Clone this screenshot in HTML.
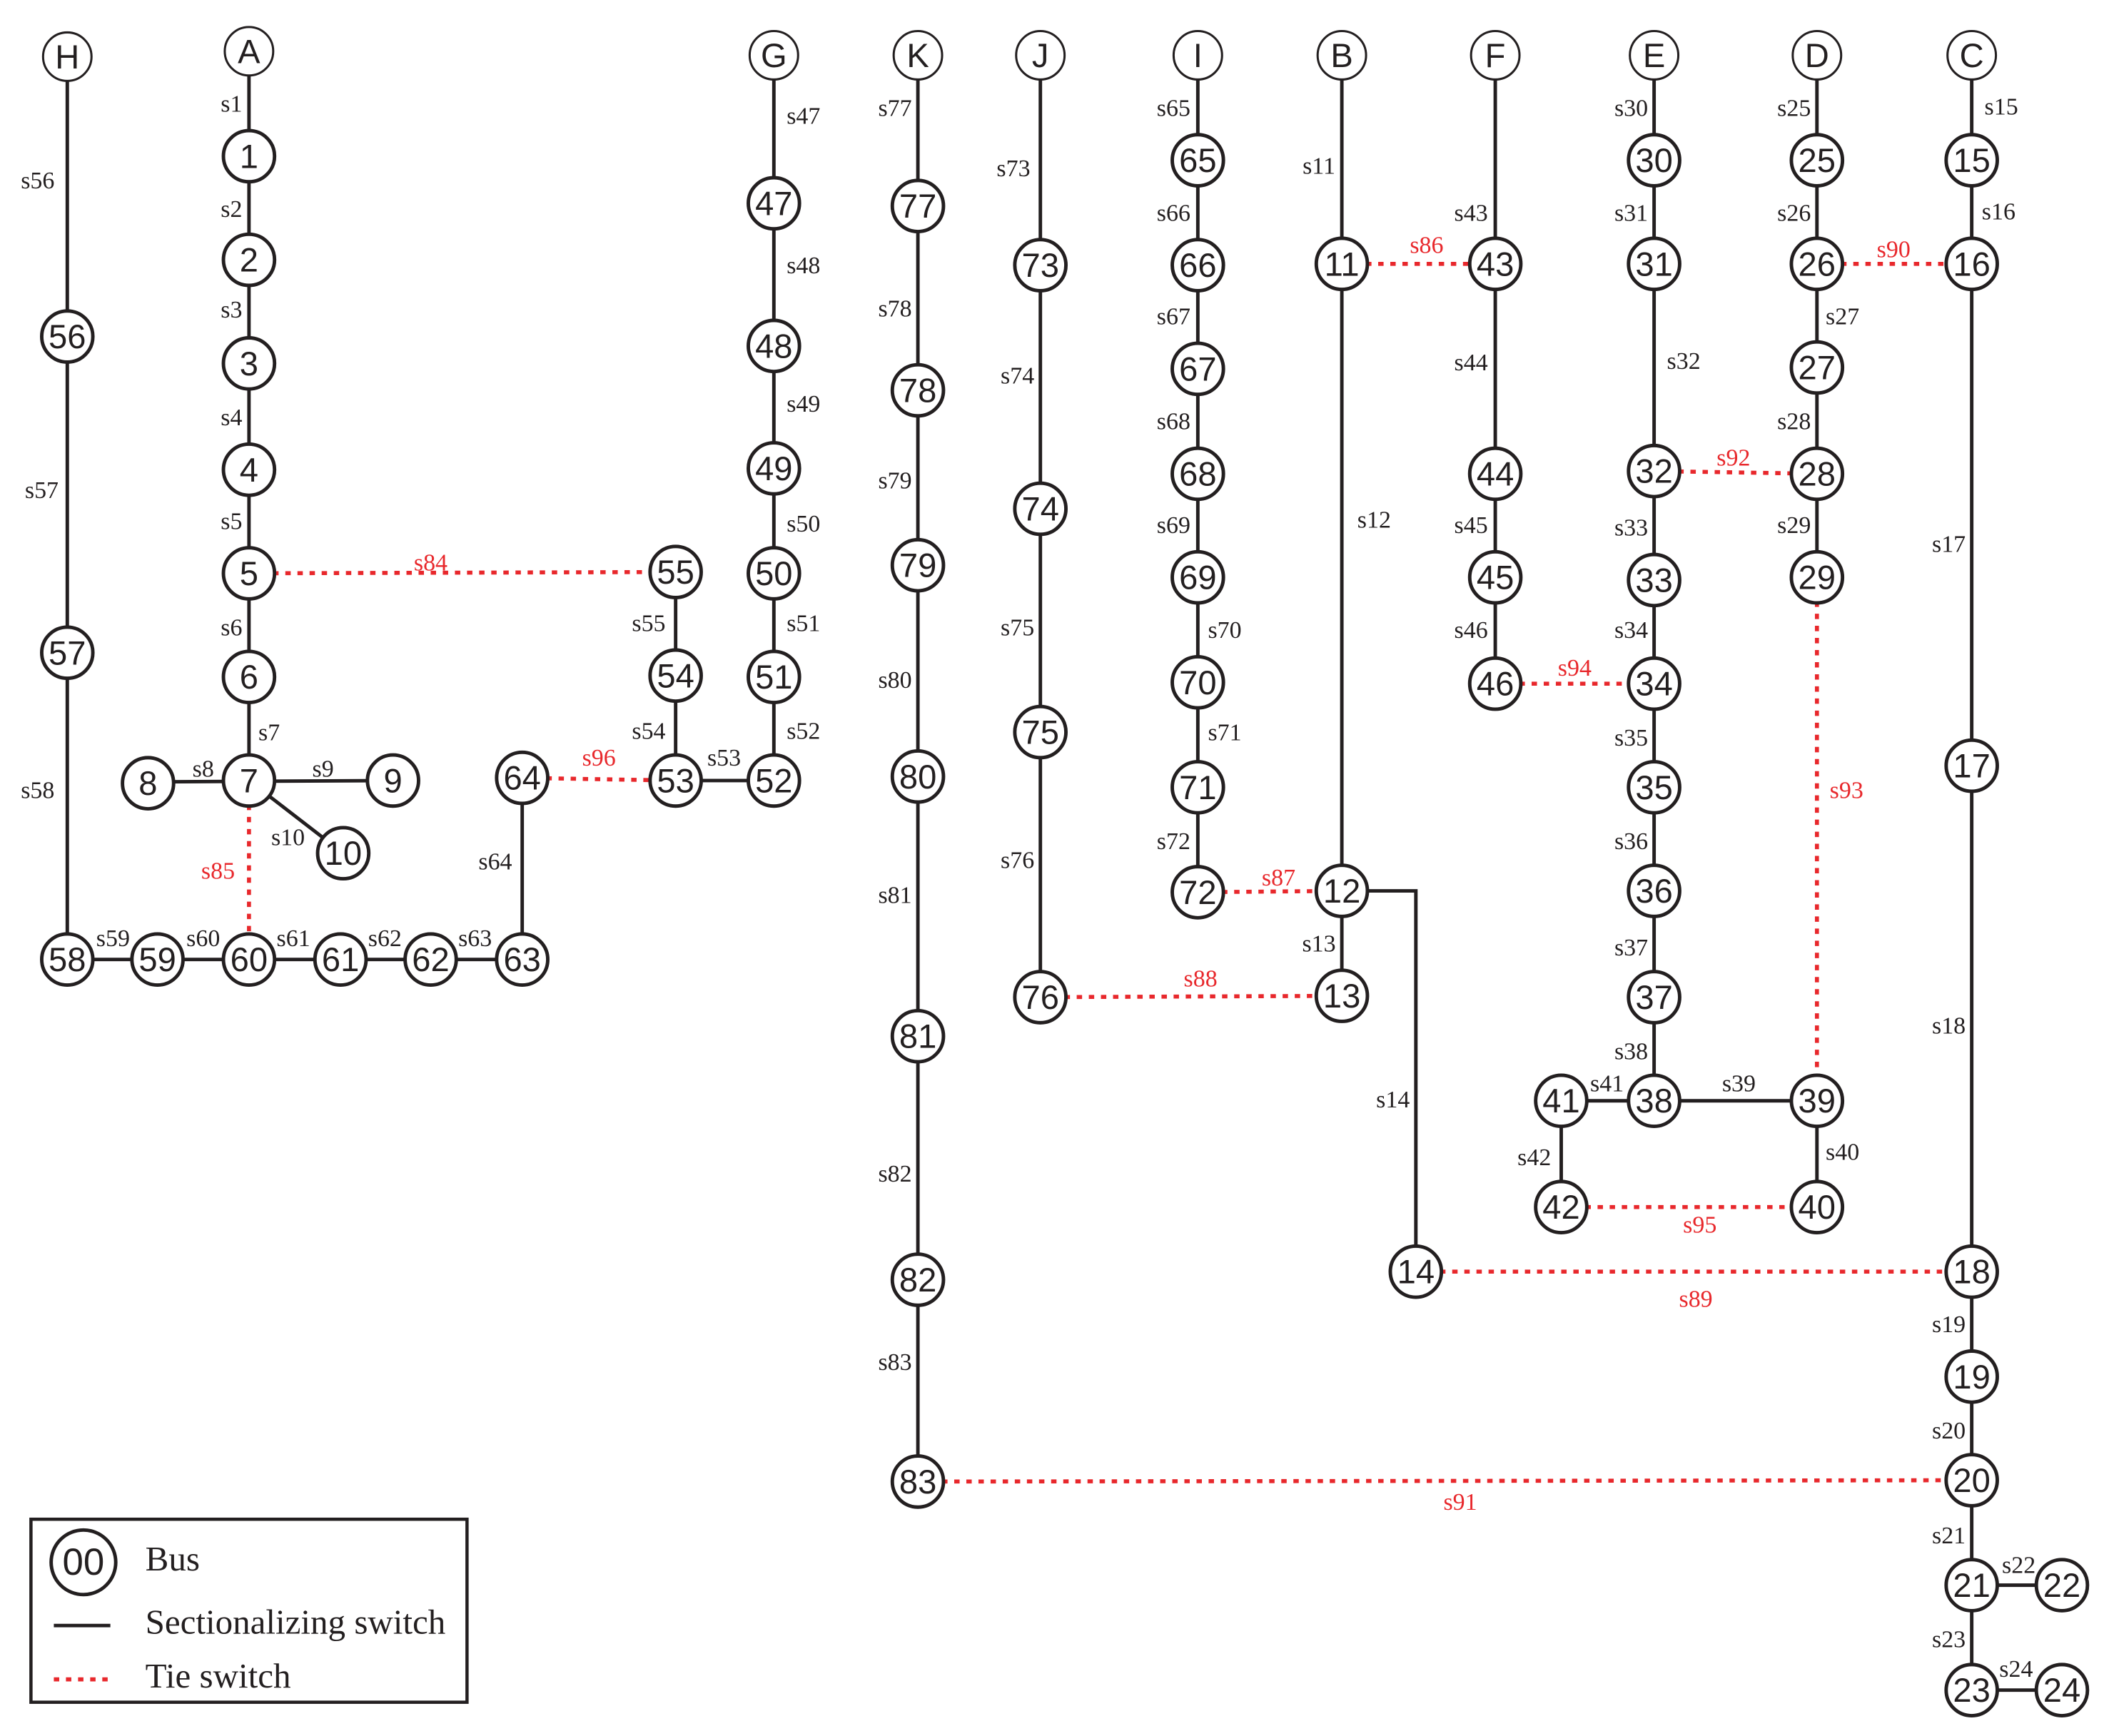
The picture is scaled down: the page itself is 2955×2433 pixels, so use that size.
<!DOCTYPE html>
<html><head><meta charset="utf-8"><style>
html,body{margin:0;padding:0;background:#fff;}
svg{display:block;}
.n circle{fill:#fff;stroke:#231f20;stroke-width:2.6;}
.n text{font-family:"Liberation Sans",sans-serif;font-size:25px;text-anchor:middle;dominant-baseline:central;fill:#231f20;}
.l circle{fill:#fff;stroke:#231f20;stroke-width:1.6;}
.s{font-family:"Liberation Serif",serif;font-size:18px;text-anchor:middle;fill:#231f20;}
.r{font-family:"Liberation Serif",serif;font-size:18px;text-anchor:middle;fill:#e8282c;}
.e{stroke:#231f20;stroke-width:2.6;fill:none;}
.t{stroke:#e8282c;stroke-width:3;stroke-dasharray:4 5;fill:none;}
.lg{font-family:"Liberation Serif",serif;font-size:26px;fill:#231f20;}
</style></head><body>
<svg width="2955" height="2433" viewBox="0 0 1567 1290" xmlns="http://www.w3.org/2000/svg">
<g class="e">
<line x1="50" y1="42" x2="50" y2="713"/>
<line x1="50" y1="713" x2="388" y2="713"/>
<line x1="388" y1="713" x2="388" y2="578"/>
<line x1="185" y1="38" x2="185" y2="580"/>
<line x1="110" y1="581" x2="292" y2="580"/>
<line x1="185" y1="580" x2="255" y2="634"/>
<line x1="502" y1="425" x2="502" y2="580"/>
<line x1="502" y1="580" x2="575" y2="580"/>
<line x1="575" y1="41" x2="575" y2="580"/>
<line x1="682" y1="41" x2="682" y2="1101"/>
<line x1="773" y1="41" x2="773" y2="741"/>
<line x1="890" y1="41" x2="890" y2="663"/>
<line x1="997" y1="41" x2="997" y2="740"/>
<polyline points="997,662 1052,662 1052,945"/>
<line x1="1111" y1="41" x2="1111" y2="508"/>
<line x1="1229" y1="41" x2="1229" y2="818"/>
<line x1="1160" y1="818" x2="1350" y2="818"/>
<line x1="1160" y1="818" x2="1160" y2="897"/>
<line x1="1350" y1="818" x2="1350" y2="897"/>
<line x1="1350" y1="41" x2="1350" y2="429"/>
<line x1="1465" y1="41" x2="1465" y2="1256"/>
<line x1="1465" y1="1178" x2="1532" y2="1178"/>
<line x1="1465" y1="1256" x2="1532" y2="1256"/>
</g>
<g class="t">
<line x1="185" y1="426" x2="502" y2="425"/>
<line x1="185" y1="580" x2="185" y2="713"/>
<line x1="997" y1="196" x2="1111" y2="196"/>
<line x1="890" y1="663" x2="997" y2="662"/>
<line x1="773" y1="741" x2="997" y2="740"/>
<line x1="1052" y1="945" x2="1465" y2="945"/>
<line x1="1350" y1="196" x2="1465" y2="196"/>
<line x1="682" y1="1101" x2="1465" y2="1100"/>
<line x1="1229" y1="350" x2="1350" y2="352"/>
<line x1="1350" y1="429" x2="1350" y2="818"/>
<line x1="1111" y1="508" x2="1229" y2="508"/>
<line x1="1160" y1="897" x2="1350" y2="897"/>
<line x1="388" y1="578" x2="502" y2="580"/>
</g>
<g class="n l">
<circle cx="50" cy="42" r="18"/><text x="50" y="42">H</text>
<circle cx="185" cy="38" r="18"/><text x="185" y="38">A</text>
<circle cx="575" cy="41" r="18"/><text x="575" y="41">G</text>
<circle cx="682" cy="41" r="18"/><text x="682" y="41">K</text>
<circle cx="773" cy="41" r="18"/><text x="773" y="41">J</text>
<circle cx="890" cy="41" r="18"/><text x="890" y="41">I</text>
<circle cx="997" cy="41" r="18"/><text x="997" y="41">B</text>
<circle cx="1111" cy="41" r="18"/><text x="1111" y="41">F</text>
<circle cx="1229" cy="41" r="18"/><text x="1229" y="41">E</text>
<circle cx="1350" cy="41" r="18"/><text x="1350" y="41">D</text>
<circle cx="1465" cy="41" r="18"/><text x="1465" y="41">C</text>
</g>
<g class="n">
<circle cx="50" cy="250" r="19"/><text x="50" y="250">56</text>
<circle cx="50" cy="485" r="19"/><text x="50" y="485">57</text>
<circle cx="50" cy="713" r="19"/><text x="50" y="713">58</text>
<circle cx="185" cy="116" r="19"/><text x="185" y="116">1</text>
<circle cx="185" cy="193" r="19"/><text x="185" y="193">2</text>
<circle cx="185" cy="270" r="19"/><text x="185" y="270">3</text>
<circle cx="185" cy="349" r="19"/><text x="185" y="349">4</text>
<circle cx="185" cy="426" r="19"/><text x="185" y="426">5</text>
<circle cx="185" cy="503" r="19"/><text x="185" y="503">6</text>
<circle cx="185" cy="580" r="19"/><text x="185" y="580">7</text>
<circle cx="110" cy="582" r="19"/><text x="110" y="582">8</text>
<circle cx="292" cy="580" r="19"/><text x="292" y="580">9</text>
<circle cx="255" cy="634" r="19"/><text x="255" y="634">10</text>
<circle cx="117" cy="713" r="19"/><text x="117" y="713">59</text>
<circle cx="185" cy="713" r="19"/><text x="185" y="713">60</text>
<circle cx="253" cy="713" r="19"/><text x="253" y="713">61</text>
<circle cx="320" cy="713" r="19"/><text x="320" y="713">62</text>
<circle cx="388" cy="713" r="19"/><text x="388" y="713">63</text>
<circle cx="388" cy="578" r="19"/><text x="388" y="578">64</text>
<circle cx="502" cy="425" r="19"/><text x="502" y="425">55</text>
<circle cx="502" cy="502" r="19"/><text x="502" y="502">54</text>
<circle cx="502" cy="580" r="19"/><text x="502" y="580">53</text>
<circle cx="575" cy="580" r="19"/><text x="575" y="580">52</text>
<circle cx="575" cy="503" r="19"/><text x="575" y="503">51</text>
<circle cx="575" cy="426" r="19"/><text x="575" y="426">50</text>
<circle cx="575" cy="348" r="19"/><text x="575" y="348">49</text>
<circle cx="575" cy="257" r="19"/><text x="575" y="257">48</text>
<circle cx="575" cy="151" r="19"/><text x="575" y="151">47</text>
<circle cx="682" cy="153" r="19"/><text x="682" y="153">77</text>
<circle cx="682" cy="290" r="19"/><text x="682" y="290">78</text>
<circle cx="682" cy="420" r="19"/><text x="682" y="420">79</text>
<circle cx="682" cy="577" r="19"/><text x="682" y="577">80</text>
<circle cx="682" cy="770" r="19"/><text x="682" y="770">81</text>
<circle cx="682" cy="951" r="19"/><text x="682" y="951">82</text>
<circle cx="682" cy="1101" r="19"/><text x="682" y="1101">83</text>
<circle cx="773" cy="197" r="19"/><text x="773" y="197">73</text>
<circle cx="773" cy="378" r="19"/><text x="773" y="378">74</text>
<circle cx="773" cy="544" r="19"/><text x="773" y="544">75</text>
<circle cx="773" cy="741" r="19"/><text x="773" y="741">76</text>
<circle cx="890" cy="119" r="19"/><text x="890" y="119">65</text>
<circle cx="890" cy="197" r="19"/><text x="890" y="197">66</text>
<circle cx="890" cy="274" r="19"/><text x="890" y="274">67</text>
<circle cx="890" cy="352" r="19"/><text x="890" y="352">68</text>
<circle cx="890" cy="429" r="19"/><text x="890" y="429">69</text>
<circle cx="890" cy="507" r="19"/><text x="890" y="507">70</text>
<circle cx="890" cy="585" r="19"/><text x="890" y="585">71</text>
<circle cx="890" cy="663" r="19"/><text x="890" y="663">72</text>
<circle cx="997" cy="196" r="19"/><text x="997" y="196">11</text>
<circle cx="997" cy="662" r="19"/><text x="997" y="662">12</text>
<circle cx="997" cy="740" r="19"/><text x="997" y="740">13</text>
<circle cx="1052" cy="945" r="19"/><text x="1052" y="945">14</text>
<circle cx="1111" cy="196" r="19"/><text x="1111" y="196">43</text>
<circle cx="1111" cy="352" r="19"/><text x="1111" y="352">44</text>
<circle cx="1111" cy="429" r="19"/><text x="1111" y="429">45</text>
<circle cx="1111" cy="508" r="19"/><text x="1111" y="508">46</text>
<circle cx="1229" cy="119" r="19"/><text x="1229" y="119">30</text>
<circle cx="1229" cy="196" r="19"/><text x="1229" y="196">31</text>
<circle cx="1229" cy="350" r="19"/><text x="1229" y="350">32</text>
<circle cx="1229" cy="431" r="19"/><text x="1229" y="431">33</text>
<circle cx="1229" cy="508" r="19"/><text x="1229" y="508">34</text>
<circle cx="1229" cy="585" r="19"/><text x="1229" y="585">35</text>
<circle cx="1229" cy="662" r="19"/><text x="1229" y="662">36</text>
<circle cx="1229" cy="741" r="19"/><text x="1229" y="741">37</text>
<circle cx="1229" cy="818" r="19"/><text x="1229" y="818">38</text>
<circle cx="1160" cy="818" r="19"/><text x="1160" y="818">41</text>
<circle cx="1160" cy="897" r="19"/><text x="1160" y="897">42</text>
<circle cx="1350" cy="818" r="19"/><text x="1350" y="818">39</text>
<circle cx="1350" cy="897" r="19"/><text x="1350" y="897">40</text>
<circle cx="1350" cy="119" r="19"/><text x="1350" y="119">25</text>
<circle cx="1350" cy="196" r="19"/><text x="1350" y="196">26</text>
<circle cx="1350" cy="273" r="19"/><text x="1350" y="273">27</text>
<circle cx="1350" cy="352" r="19"/><text x="1350" y="352">28</text>
<circle cx="1350" cy="429" r="19"/><text x="1350" y="429">29</text>
<circle cx="1465" cy="119" r="19"/><text x="1465" y="119">15</text>
<circle cx="1465" cy="196" r="19"/><text x="1465" y="196">16</text>
<circle cx="1465" cy="569" r="19"/><text x="1465" y="569">17</text>
<circle cx="1465" cy="945" r="19"/><text x="1465" y="945">18</text>
<circle cx="1465" cy="1023" r="19"/><text x="1465" y="1023">19</text>
<circle cx="1465" cy="1100" r="19"/><text x="1465" y="1100">20</text>
<circle cx="1465" cy="1178" r="19"/><text x="1465" y="1178">21</text>
<circle cx="1532" cy="1178" r="19"/><text x="1532" y="1178">22</text>
<circle cx="1465" cy="1256" r="19"/><text x="1465" y="1256">23</text>
<circle cx="1532" cy="1256" r="19"/><text x="1532" y="1256">24</text>
</g>
<g class="s">
<text x="28" y="140">s56</text><text x="31" y="370">s57</text><text x="28" y="593">s58</text>
<text x="84" y="703">s59</text><text x="151" y="703">s60</text><text x="218" y="703">s61</text><text x="286" y="703">s62</text><text x="353" y="703">s63</text><text x="368" y="646">s64</text>
<text x="172" y="83">s1</text><text x="172" y="161">s2</text><text x="172" y="236">s3</text><text x="172" y="316">s4</text><text x="172" y="393">s5</text><text x="172" y="472">s6</text><text x="200" y="550">s7</text><text x="151" y="577">s8</text><text x="240" y="577">s9</text><text x="214" y="628">s10</text>
<text x="482" y="469">s55</text><text x="482" y="549">s54</text><text x="538" y="569">s53</text><text x="597" y="549">s52</text><text x="597" y="469">s51</text><text x="597" y="395">s50</text><text x="597" y="306">s49</text><text x="597" y="203">s48</text><text x="597" y="92">s47</text>
<text x="665" y="86">s77</text><text x="665" y="235">s78</text><text x="665" y="363">s79</text><text x="665" y="511">s80</text><text x="665" y="671">s81</text><text x="665" y="878">s82</text><text x="665" y="1018">s83</text>
<text x="753" y="131">s73</text><text x="756" y="285">s74</text><text x="756" y="472">s75</text><text x="756" y="645">s76</text>
<text x="872" y="86">s65</text><text x="872" y="164">s66</text><text x="872" y="241">s67</text><text x="872" y="319">s68</text><text x="872" y="396">s69</text><text x="910" y="474">s70</text><text x="910" y="550">s71</text><text x="872" y="631">s72</text>
<text x="980" y="129">s11</text><text x="1021" y="392">s12</text><text x="980" y="707">s13</text><text x="1035" y="823">s14</text>
<text x="1093" y="164">s43</text><text x="1093" y="275">s44</text><text x="1093" y="396">s45</text><text x="1093" y="474">s46</text>
<text x="1212" y="86">s30</text><text x="1212" y="164">s31</text><text x="1251" y="274">s32</text><text x="1212" y="398">s33</text><text x="1212" y="474">s34</text><text x="1212" y="554">s35</text><text x="1212" y="631">s36</text><text x="1212" y="710">s37</text><text x="1212" y="787">s38</text><text x="1194" y="811">s41</text><text x="1292" y="811">s39</text><text x="1140" y="866">s42</text><text x="1369" y="862">s40</text>
<text x="1333" y="86">s25</text><text x="1333" y="164">s26</text><text x="1369" y="241">s27</text><text x="1333" y="319">s28</text><text x="1333" y="396">s29</text>
<text x="1487" y="85">s15</text><text x="1485" y="163">s16</text><text x="1448" y="410">s17</text><text x="1448" y="768">s18</text><text x="1448" y="990">s19</text><text x="1448" y="1069">s20</text><text x="1448" y="1147">s21</text><text x="1500" y="1169">s22</text><text x="1448" y="1224">s23</text><text x="1498" y="1246">s24</text>
</g>
<g class="r">
<text x="320" y="424">s84</text><text x="162" y="653">s85</text><text x="1060" y="188">s86</text><text x="950" y="658">s87</text><text x="892" y="733">s88</text><text x="1260" y="971">s89</text><text x="1407" y="191">s90</text><text x="1085" y="1122">s91</text><text x="1288" y="346">s92</text><text x="1372" y="593">s93</text><text x="1170" y="502">s94</text><text x="1263" y="916">s95</text><text x="445" y="569">s96</text>
</g>
<rect x="23" y="1129" width="324" height="136" fill="#fff" stroke="#231f20" stroke-width="2.4"/>
<g class="n"><circle cx="62" cy="1161" r="24"/><text x="62" y="1161" style="font-size:28px">00</text></g>
<text x="108" y="1167" class="lg">Bus</text>
<line x1="40" y1="1208" x2="82" y2="1208" class="e"/>
<text x="108" y="1214" class="lg">Sectionalizing switch</text>
<line x1="40" y1="1248" x2="84" y2="1248" class="t"/>
<text x="108" y="1254" class="lg">Tie switch</text>
</svg>
</body></html>
